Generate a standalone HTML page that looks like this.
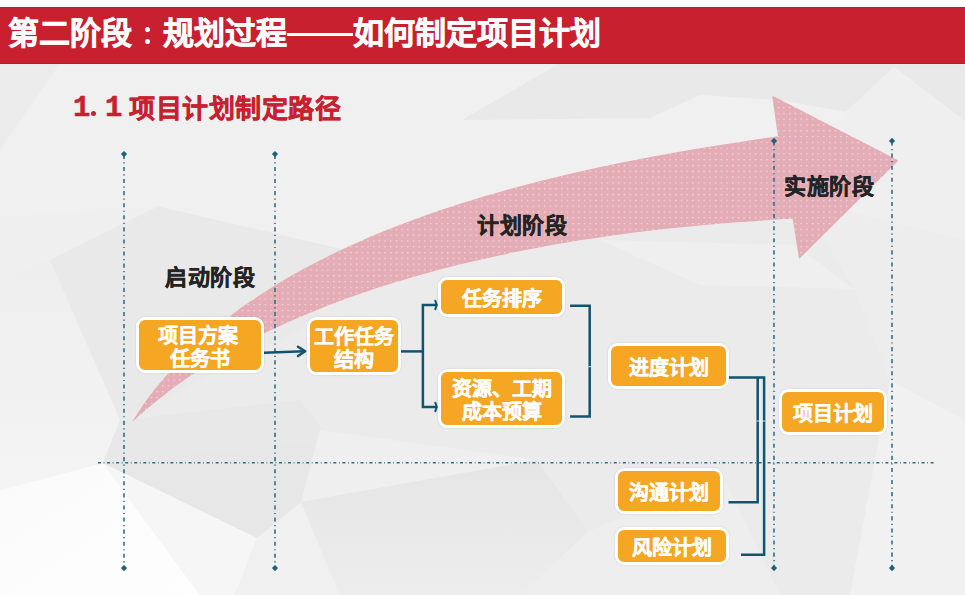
<!DOCTYPE html>
<html lang="zh-CN">
<head>
<meta charset="utf-8">
<style>
*{margin:0;padding:0;box-sizing:border-box;}
html,body{width:965px;height:595px;overflow:hidden;}
body{position:relative;background:#ededed;font-family:"Liberation Sans",sans-serif;}
#bg{position:absolute;left:0;top:0;}
#topw{position:absolute;left:0;top:0;width:965px;height:7px;background:#fff;}
#bar{position:absolute;left:0;top:7px;width:965px;height:56.6px;background:#c92030;border-bottom:1px solid #bd1c2b;border-top:0.5px solid #c01d2d;}
#title{position:absolute;left:8px;top:15px;color:#fff;-webkit-text-stroke:0.6px #fff;font-size:31px;font-weight:bold;line-height:38px;white-space:nowrap;}
#sub{position:absolute;left:0;top:93px;color:#c8202f;font-weight:bold;white-space:nowrap;}
#sub span{position:absolute;top:0;line-height:32px;}
.sd{font-family:"Liberation Mono",monospace;font-size:29px;-webkit-text-stroke:0.5px #c8202f;}
.sp{position:absolute;left:90.8px;top:17.8px;width:5.2px;height:5.2px;border-radius:50%;background:#c8202f;}
.sc{font-size:26px;letter-spacing:0.5px;-webkit-text-stroke:0.4px #c8202f;}
#fg{position:absolute;left:0;top:0;}
.box{position:absolute;background:#f5a623;border:3px solid #fff;border-radius:9px;color:#fff;font-weight:bold;font-size:20px;line-height:23px;text-align:center;display:flex;align-items:center;justify-content:center;padding-top:5px;box-shadow:0 0 2px rgba(0,0,0,0.15);-webkit-text-stroke:0.4px #fff;}
.colon{display:inline-block;position:relative;width:31px;height:31px;vertical-align:top;}
.colon::before,.colon::after{content:"";position:absolute;left:13px;width:5.4px;height:5.4px;border-radius:50%;background:#fff;}
.colon::before{top:12px;}.colon::after{top:23.5px;}
.dash{display:inline-block;position:relative;width:66px;height:31px;vertical-align:top;}
.dash::before{content:"";position:absolute;left:-0.3px;top:18px;width:66.6px;height:3px;background:#fff;}
.lbl{position:absolute;color:#242424;-webkit-text-stroke:0.4px #242424;font-weight:bold;font-size:22px;line-height:26px;white-space:nowrap;letter-spacing:0.5px;}
</style>
</head>
<body>
<svg id="bg" width="965" height="595" viewBox="0 0 965 595">
  <defs>
    <linearGradient id="gq" x1="0" y1="0" x2="0" y2="1"><stop offset="0" stop-color="#e5e5e5"/><stop offset="1" stop-color="#ededed"/></linearGradient>
    <linearGradient id="gw" x1="0" y1="0" x2="1" y2="1"><stop offset="0" stop-color="#fafafa"/><stop offset="1" stop-color="#fefefe"/></linearGradient>
    <linearGradient id="gl" x1="0" y1="0" x2="0" y2="1"><stop offset="0" stop-color="#eeeeee"/><stop offset="1" stop-color="#f4f4f4"/></linearGradient>
  </defs>
  <rect width="965" height="595" fill="#ebebeb"/>
  <polygon points="0,63 965,63 965,240 800,200 600,235 341,249 158.5,206.4 0,217" fill="#f0f0f0"/>
  <polygon points="462,120 560,63 965,63 965,121 894,66.7 846,111.8 780,100 700,95 650,118" fill="#e9e9e9"/>
  <polygon points="846,111.8 894,66.7 965,121 965,240 800,200" fill="#efefef"/>
  <polygon points="0,63 60,63 0,150" fill="#ececec"/>
  <polygon points="0,217 158.5,206.4 50,260 0,280" fill="#efefef"/>
  <polygon points="158.5,206.4 341,249 330,300 300,330 120,420 50,260" fill="#e9e9e9"/>
  <polygon points="0,280 50,260 120,420 103,463 0,490" fill="url(#gl)"/>
  <polygon points="0,490 103,463 200,595 0,595" fill="url(#gw)"/>
  <polygon points="103,463 257,538 235,595 200,595" fill="#f6f6f6"/>
  <polygon points="120,420 300,400 330,440 103,463" fill="#e8e8e8"/>
  <polygon points="103,463 330,440 301,502 257,538" fill="#e7e7e7"/>
  <polygon points="257,538 301,502 340,595 235,595" fill="#f0f0f0"/>
  <polygon points="301,502 320,430 537,460" fill="#efefef"/>
  <polygon points="301,502 537,460 588,532 520,595 340,595" fill="url(#gq)"/>
  <polygon points="588,532 720,470 780,595 520,595" fill="#eeeeee"/>
  <polygon points="600,240 795,245 854,289 700,285" fill="#efefef"/>
  <polygon points="890,380 965,420 965,595 850,595" fill="#f1f1f1"/>
  <polygon points="800,200 965,240 965,420 890,380 854,289" fill="#ededed"/>
</svg>
<div id="topw"></div>
<div id="bar"></div>
<div id="title">第二阶段<span class="colon"></span>规划过程<span class="dash"></span>如何制定项目计划</div>
<div id="sub"><span class="sd" style="left:73px">1</span><i class="sp"></i><span class="sd" style="left:105px">1</span><span class="sc" style="left:129px">项目计划制定路径</span></div>
<svg id="fg" width="965" height="595" viewBox="0 0 965 595">
  <defs>
    <pattern id="dots" width="5.7" height="5.8" patternUnits="userSpaceOnUse" x="0.5" y="0.6">
      <rect width="5.7" height="5.8" fill="#e4acb5"/>
      <rect x="2" y="2" width="1.3" height="1.2" fill="#f4e6e9"/>
    </pattern>
  </defs>
  <path d="M131.9,422.3 C247.6,233.6 541.8,169.7 778,136.3 L772.1,95.4 L898.5,160.6 L799.1,259 L792.6,218.6 C740.3,223 332.4,234.3 131.9,422.3 Z" fill="url(#dots)"/>
  <g stroke="#2d6f8a" stroke-width="1.6" fill="none">
    <line x1="124" y1="154.8" x2="124" y2="566" stroke-dasharray="4.1,3.37,1.2,3.42"/>
    <line x1="275" y1="154.8" x2="275" y2="566" stroke-dasharray="4.1,3.37,1.2,3.42"/>
    <line x1="774" y1="141.5" x2="774" y2="566" stroke-dasharray="4.1,3.37,1.2,3.42"/>
    <line x1="892" y1="141.5" x2="892" y2="566" stroke-dasharray="4.1,3.37,1.2,3.42"/>
    <line x1="98" y1="462.8" x2="935" y2="462.8" stroke-dasharray="3,2.6,0.8,2.65"/>
  </g>
  <g fill="#1d617c">
    <path d="M124,151 l3.1,3.1 l-3.1,3.1 l-3.1,-3.1z"/>
    <path d="M275,151 l3.1,3.1 l-3.1,3.1 l-3.1,-3.1z"/>
    <path d="M774,137.8 l3.1,3.1 l-3.1,3.1 l-3.1,-3.1z"/>
    <path d="M892,137.8 l3.1,3.1 l-3.1,3.1 l-3.1,-3.1z"/>
    <path d="M124,565 l3.1,3.1 l-3.1,3.1 l-3.1,-3.1z"/>
    <path d="M275,565 l3.1,3.1 l-3.1,3.1 l-3.1,-3.1z"/>
    <path d="M774,565 l3.1,3.1 l-3.1,3.1 l-3.1,-3.1z"/>
    <path d="M892,565 l3.1,3.1 l-3.1,3.1 l-3.1,-3.1z"/>
  </g>
  <g stroke="#0f5470" stroke-width="2.5" fill="none">
    <path d="M264,352.7 L304.5,351.2"/>
    <path d="M298,346.7 L305.2,351.2 L298,356" stroke-linecap="round" stroke-linejoin="round"/>
    <path d="M401,351.4 L422.9,351.4"/>
    <path d="M437,305 L422.9,305 L422.9,406.9 L437,406.9"/>
    <path d="M435.3,300.8 L436.8,305 L435.3,309.2" stroke-width="2" stroke-linecap="round"/>
    <path d="M435.3,402.7 L436.8,406.9 L435.3,411.1" stroke-width="2" stroke-linecap="round"/>
    <path d="M570.1,305.8 L589.7,305.8 L589.7,416.6 L570.1,416.6"/>
    <path d="M728.4,377.4 L764.1,377.4 L764.1,554.7 L741,554.7"/>
    <path d="M757.7,377.4 L757.7,502.2 L728.5,502.2"/>
  </g>
  <path d="M608.5,364.2 L611,366.7 L608.5,369.2z" fill="#3b7590"/>
  <g stroke="#fff" stroke-width="1" opacity="0.8">
    <path d="M588.5,366.7 L591,366.7"/>
    <path d="M756.5,421 L765.5,421"/>
  </g>
</svg>
<div class="box" style="left:136px;top:317px;width:128px;height:56px;"><div><span style="position:relative;left:-2px">项目方案</span><br>任务书</div></div>
<div class="box" style="left:307px;top:317px;width:94px;height:58px;"><div>工作任务<br>结构</div></div>
<div class="box" style="left:438px;top:277px;width:127px;height:40px;"><div>任务排序</div></div>
<div class="box" style="left:438px;top:369px;width:127px;height:59px;"><div>资源、工期<br>成本预算</div></div>
<div class="box" style="left:608px;top:343px;width:121px;height:46px;"><div>进度计划</div></div>
<div class="box" style="left:615px;top:468px;width:108px;height:46px;"><div>沟通计划</div></div>
<div class="box" style="left:615px;top:527px;width:114px;height:38px;"><div>风险计划</div></div>
<div class="box" style="left:779px;top:389px;width:108px;height:46px;"><div>项目计划</div></div>
<div class="lbl" style="left:165px;top:264.5px;">启动阶段</div>
<div class="lbl" style="left:477px;top:212.5px;">计划阶段</div>
<div class="lbl" style="left:784px;top:173.5px;">实施阶段</div>
</body>
</html>
